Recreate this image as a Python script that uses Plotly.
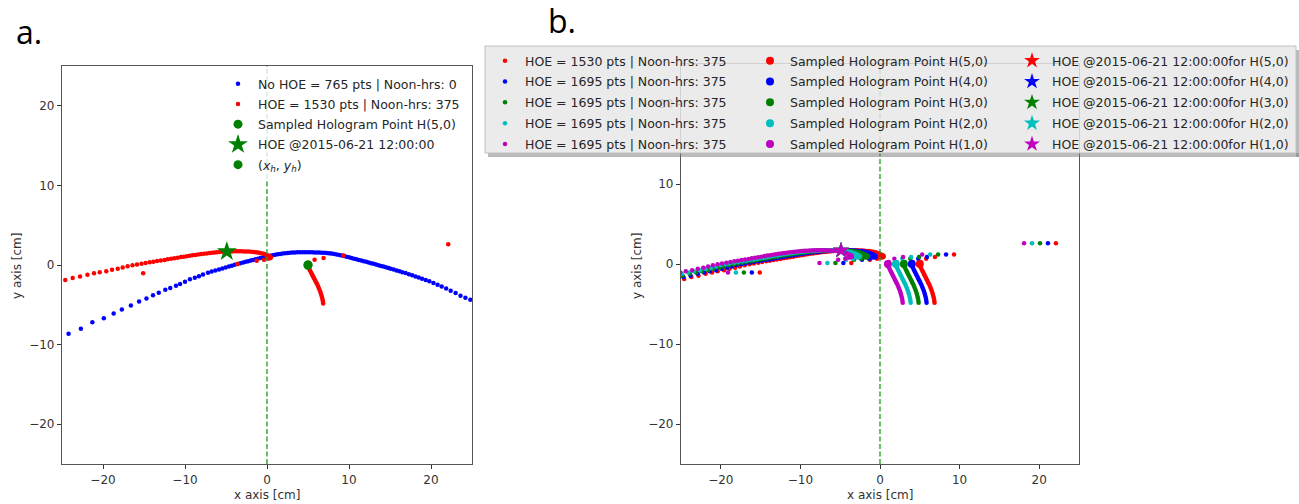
import plotly.graph_objects as go

# ---------------- data ----------------
# panel a: "No HOE" path (blue)
blue_x = [-24.2, -22.7, -21.3, -19.9, -18.7, -17.7, -16.6, -15.6, -14.7, -13.9, -13.2, -12.4,
          -11.8, -11.1, -10.6, -10.0, -9.4, -8.8, -8.3, -7.8, -7.2, -6.75, -6.3, -5.85, -5.45,
          -5.05, -4.65, -4.3, -3.95, -3.6, -3.25, -2.9, -2.6, -2.3, -2.0, -1.7, -1.4, -1.1, -0.8,
          -0.5, -0.2, 0.1, 0.4, 0.7, 1.0, 1.3, 1.6, 1.9, 2.2, 2.5, 2.8, 3.1, 3.4, 3.7, 4.0, 4.3,
          4.6, 4.9, 5.2, 5.5, 5.8, 6.1, 6.4, 6.7, 7.0, 7.3, 7.6, 7.9, 8.2, 8.5, 8.8, 9.1, 9.4,
          9.7, 10.0, 10.3, 10.6, 10.9, 11.2, 11.5, 11.8, 12.1, 12.4, 12.7, 13.0, 13.3, 13.6,
          13.9, 14.2, 14.5, 14.8, 15.1, 15.45, 15.8, 16.15, 16.5, 16.9, 17.3, 17.7, 18.1, 18.5,
          18.9, 19.35, 19.8, 20.3, 20.8, 21.3, 21.85, 22.4, 23.0, 23.6, 24.2, 24.8]
blue_y = [-8.65, -8.0, -7.2, -6.7, -6.1, -5.6, -5.1, -4.6, -4.2, -3.8, -3.5, -3.1,
          -2.9, -2.6, -2.4, -2.1, -1.8, -1.6, -1.4, -1.2, -0.97, -0.83, -0.69, -0.55, -0.43,
          -0.31, -0.19, -0.08, 0.02, 0.12, 0.22, 0.31, 0.4, 0.48, 0.56, 0.64, 0.72, 0.8, 0.87,
          0.94, 1.01, 1.08, 1.15, 1.22, 1.28, 1.34, 1.39, 1.44, 1.48, 1.51, 1.54, 1.56, 1.58,
          1.59, 1.6, 1.6, 1.6, 1.6, 1.6, 1.59, 1.58, 1.57, 1.56, 1.55, 1.53, 1.5, 1.47, 1.43,
          1.38, 1.32, 1.26, 1.19, 1.12, 1.04, 0.96, 0.88, 0.8, 0.72, 0.64, 0.56, 0.48, 0.4,
          0.32, 0.23, 0.15, 0.06, -0.02, -0.11, -0.2, -0.29, -0.38, -0.47, -0.57, -0.68, -0.79,
          -0.9, -1.02, -1.15, -1.29, -1.43, -1.57, -1.72, -1.88, -2.05, -2.25, -2.47, -2.7,
          -2.95, -3.22, -3.52, -3.85, -4.1, -4.35]

# panel a: "HOE" path (red) for hologram point H(5,0)
red_x = [-24.6, -23.7, -22.8, -21.9, -21.1, -20.4, -19.6, -18.9, -18.2, -17.6, -17.0, -16.4,
         -15.85, -15.3, -14.8, -14.3, -13.85, -13.4, -12.95, -12.5, -12.1, -11.7, -11.3, -10.9,
         -10.5, -10.15, -9.8, -9.45, -9.1, -8.75, -8.4, -8.05, -7.7, -7.35, -7.0, -6.7, -6.4,
         -6.1, -5.8, -5.5, -5.2, -4.9, -4.6, -4.3, -4.0, -3.7, -3.4, -3.1, -2.8, -2.5, -2.2,
         -1.9, -1.6, -1.35, -1.1, -0.85, -0.6, -0.4, -0.2, 0.0, 0.2, 0.35, 0.45, 0.45, 0.35,
         0.2, 0.0,
         -15.1, -3.6, -1.26, -0.37, 5.8, 6.9, 9.3, 22.1,
         5.1, 5.0, 5.05, 5.1, 5.2, 5.3, 5.4, 5.5, 5.6, 5.7, 5.8, 5.9, 6.0, 6.1, 6.2, 6.3, 6.4,
         6.5, 6.58, 6.65, 6.72, 6.78, 6.82, 6.85]
red_y = [-1.88, -1.63, -1.46, -1.21, -1.05, -0.92, -0.79, -0.6, -0.46, -0.3, -0.15, -0.04,
         0.06, 0.16, 0.25, 0.34, 0.42, 0.5, 0.57, 0.64, 0.71, 0.78, 0.85, 0.92,
         0.99, 1.05, 1.1, 1.16, 1.22, 1.27, 1.32, 1.37, 1.42, 1.46, 1.5, 1.54, 1.57,
         1.6, 1.63, 1.65, 1.67, 1.69, 1.7, 1.71, 1.72, 1.72, 1.72, 1.72, 1.71, 1.7, 1.69,
         1.67, 1.64, 1.61, 1.57, 1.52, 1.46, 1.4, 1.33, 1.25, 1.17, 1.08, 0.99, 0.9, 0.84,
         0.82, 0.85,
         -1.05, 0.12, 0.54, 0.67, 0.65, 0.88, 1.2, 2.6,
         0.25, 0.1, -0.2, -0.4, -0.6, -0.8, -1.0, -1.2, -1.4, -1.6, -1.8, -2.0, -2.2, -2.4,
         -2.6, -2.85, -3.1, -3.35, -3.6, -3.85, -4.1, -4.35, -4.6, -4.85]

sample_pt = (5.0, 0.0)          # sampled hologram point H(5,0)
noon_pt = (-4.9, 1.7)           # HOE @2015-06-21 12:00:00

# panel b: hologram points H(k,0); each HOE path is the H(5,0) path moved to its point
holo_x = [5, 4, 3, 2, 1]
holo_y = [0, 0, 0, 0, 0]
holo_colors = ["#ff0000", "#0000ff", "#008000", "#00bfbf", "#bf00bf"]
holo_pts = [1530, 1695, 1695, 1695, 1695]

ticks = [-20, -10, 0, 10, 20]
tick_text = ["\u221220", "\u221210", "0", "10", "20"]

FONT = "DejaVu Sans"
W, H = 1299, 504

fig = go.Figure()

# ---------------- panel a ----------------
fig.add_trace(go.Scatter(x=blue_x, y=blue_y, mode="markers", xaxis="x", yaxis="y",
                         marker=dict(color="#0000ff", size=4.5), legendgroup="a1",
                         name="No HOE = 765 pts | Noon-hrs: 0", legend="legend"))
fig.add_trace(go.Scatter(x=red_x, y=red_y, mode="markers", xaxis="x", yaxis="y",
                         marker=dict(color="#ff0000", size=4.5), legendgroup="a2",
                         name="HOE = 1530 pts | Noon-hrs: 375", legend="legend"))
fig.add_trace(go.Scatter(x=[sample_pt[0]], y=[sample_pt[1]], mode="markers", xaxis="x", yaxis="y",
                         marker=dict(color="#008000", size=9), legendgroup="a3",
                         name="Sampled Hologram Point H(5,0)", legend="legend"))
fig.add_trace(go.Scatter(x=[noon_pt[0]], y=[noon_pt[1]], mode="markers", xaxis="x", yaxis="y",
                         marker=dict(color="#008000", size=15, symbol="star"), legendgroup="a4",
                         name="HOE @2015-06-21 12:00:00", legend="legend"))
fig.add_trace(go.Scatter(x=[sample_pt[0]], y=[sample_pt[1]], mode="markers", xaxis="x", yaxis="y",
                         marker=dict(color="#008000", size=9), legendgroup="a5",
                         name="(<i>x<sub>h</sub></i>, <i>y<sub>h</sub></i>)", legend="legend"))
fig.add_trace(go.Scatter(x=[0, 0], y=[-25, 25], mode="lines", xaxis="x", yaxis="y",
                         line=dict(color="#1e9a1e", width=1.3, dash="5px,2.5px"),
                         showlegend=False, hoverinfo="skip"))

# ---------------- panel b ----------------
for i, (hx, hy, c, n) in enumerate(zip(holo_x, holo_y, holo_colors, holo_pts)):
    dx = hx - sample_pt[0]
    dy = hy - sample_pt[1]
    fig.add_trace(go.Scatter(x=[v + dx for v in red_x], y=[v + dy for v in red_y],
                             mode="markers", xaxis="x2", yaxis="y2", legendgroup=f"b1{i}",
                             marker=dict(color=c, size=4.5),
                             name=f"HOE = {n} pts | Noon-hrs: 375", legend="legend2"))
for i, (hx, hy, c) in enumerate(zip(holo_x, holo_y, holo_colors)):
    fig.add_trace(go.Scatter(x=[hx], y=[hy], mode="markers", xaxis="x2", yaxis="y2",
                             marker=dict(color=c, size=8), legendgroup=f"b2{i}",
                             name=f"Sampled Hologram Point H({hx},{hy})", legend="legend3"))
for i, (hx, hy, c) in enumerate(zip(holo_x, holo_y, holo_colors)):
    fig.add_trace(go.Scatter(x=[noon_pt[0]], y=[noon_pt[1]], mode="markers", xaxis="x2", yaxis="y2",
                             marker=dict(color=c, size=12, symbol="star"), legendgroup=f"b3{i}",
                             name=f"HOE @2015-06-21 12:00:00for H({hx},{hy})", legend="legend4"))
fig.add_trace(go.Scatter(x=[0, 0], y=[-25, 25], mode="lines", xaxis="x2", yaxis="y2",
                         line=dict(color="#1e9a1e", width=1.3, dash="5px,2.5px"),
                         showlegend=False, hoverinfo="skip"))

axis_common = dict(range=[-25, 25], tickvals=ticks, ticktext=tick_text, ticks="outside",
                   ticklen=4, tickwidth=1, tickcolor="#333333", showgrid=False, zeroline=False,
                   showline=True, mirror=True, linecolor="#555555", linewidth=1.2,
                   tickfont=dict(family=FONT, size=12, color="#333333"))

leg_common = dict(font=dict(family=FONT, size=12.5, color="#262626"), xanchor="left",
                  yanchor="top", borderwidth=0, itemwidth=30, traceorder="grouped")

fig.update_layout(
    width=W, height=H, margin=dict(l=0, r=0, t=0, b=0),
    paper_bgcolor="white", plot_bgcolor="white",
    xaxis=dict(domain=[62 / W, 472 / W], anchor="y", **axis_common),
    yaxis=dict(domain=[40 / H, (H - 66) / H], anchor="x", **axis_common),
    xaxis2=dict(domain=[681 / W, 1079 / W], anchor="y2", **axis_common),
    yaxis2=dict(domain=[40 / H, (H - 64) / H], anchor="x2", **axis_common),
    legend=dict(x=218 / W, y=1 - 69 / H, bgcolor="rgba(255,255,255,0.8)",
                tracegroupgap=1, **leg_common),
    legend2=dict(x=485 / W, y=1 - 46 / H, bgcolor="rgba(0,0,0,0)",
                 tracegroupgap=1.6, **leg_common),
    legend3=dict(x=750 / W, y=1 - 46 / H, bgcolor="rgba(0,0,0,0)",
                 tracegroupgap=1.6, **leg_common),
    legend4=dict(x=1012 / W, y=1 - 46 / H, bgcolor="rgba(0,0,0,0)",
                 tracegroupgap=1.6, **leg_common),
    showlegend=True,
)

# legend box of panel b (frame + shadow)
shapes = [
    dict(type="rect", xref="paper", yref="paper", x0=488 / W, x1=1299 / W,
         y0=1 - 157 / H, y1=1 - 153 / H, fillcolor="rgba(120,120,120,0.5)", line_width=0,
         layer="above"),
    dict(type="rect", xref="paper", yref="paper", x0=1296 / W, x1=1299 / W,
         y0=1 - 157 / H, y1=1 - 50 / H, fillcolor="rgba(120,120,120,0.5)", line_width=0,
         layer="above"),
    dict(type="rect", xref="paper", yref="paper", x0=485 / W, x1=1296 / W,
         y0=1 - 153 / H, y1=1 - 46 / H, fillcolor="rgba(232,232,232,0.85)",
         line=dict(color="#c0c0c0", width=1), layer="above"),
]
fig.update_layout(shapes=shapes)

annotations = [
    dict(text="a.", x=14 / W, y=1 - 55 / H, xref="paper", yref="paper", xanchor="left",
         yanchor="bottom", showarrow=False, font=dict(family="Open Sans", size=32, color="black")),
    dict(text="b.", x=546 / W, y=1 - 44 / H, xref="paper", yref="paper", xanchor="left",
         yanchor="bottom", showarrow=False, font=dict(family="Open Sans", size=32, color="black")),
    dict(text="x axis [cm]", x=267 / W, y=1 - 495 / H, xref="paper", yref="paper",
         xanchor="center", yanchor="middle", showarrow=False,
         font=dict(family=FONT, size=12, color="#333333")),
    dict(text="x axis [cm]", x=880 / W, y=1 - 495 / H, xref="paper", yref="paper",
         xanchor="center", yanchor="middle", showarrow=False,
         font=dict(family=FONT, size=12, color="#333333")),
    dict(text="y axis [cm]", x=17 / W, y=1 - 266 / H, xref="paper", yref="paper",
         xanchor="center", yanchor="middle", showarrow=False, textangle=-90,
         font=dict(family=FONT, size=12, color="#333333")),
    dict(text="y axis [cm]", x=637 / W, y=1 - 266 / H, xref="paper", yref="paper",
         xanchor="center", yanchor="middle", showarrow=False, textangle=-90,
         font=dict(family=FONT, size=12, color="#333333")),
]
fig.update_layout(annotations=annotations)

fig.write_html("out.html", config={"displayModeBar": False},
               post_script="document.body.style.margin='0';document.body.style.padding='0';")
